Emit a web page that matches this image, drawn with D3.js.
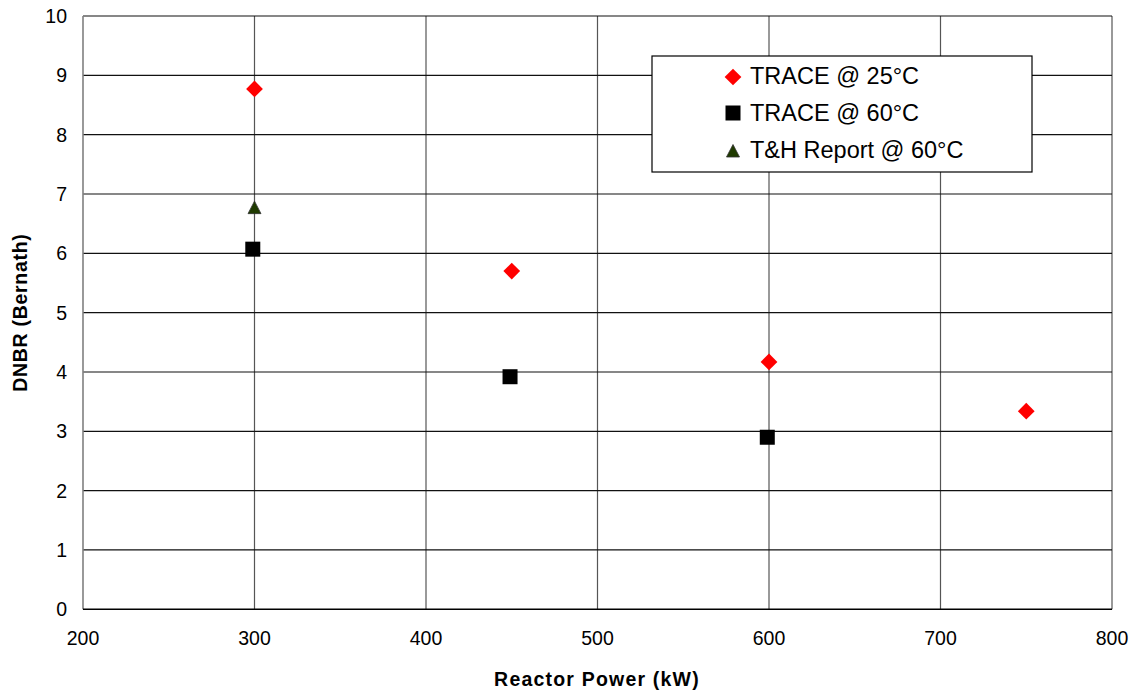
<!DOCTYPE html>
<html><head><meta charset="utf-8">
<script src="https://cdn.jsdelivr.net/npm/d3@7"></script>
<style>body{margin:0;background:#fff}svg{display:block}text{font-family:Arial,"Liberation Sans",sans-serif}</style>
</head><body><svg id="c" width="1134" height="694"></svg>
<script>
const xTicks = [200,300,400,500,600,700,800];
const yTicks = [0,1,2,3,4,5,6,7,8,9,10];
const trace25 = [[300,8.77],[450,5.70],[600,4.17],[750,3.34]];
const trace60 = [[299,6.07],[449,3.92],[599,2.90]];
const thReport = [[300,6.77]];
const legendLabels = ["TRACE @ 25°C","TRACE @ 60°C","T&H Report @ 60°C"];

const svg = d3.select("#c");
const L=83,R=1112,T=16,B=609.3;
const x = d3.scaleLinear().domain([200,800]).range([L,R]);
const y = d3.scaleLinear().domain([0,10]).range([B,T]);

svg.append("g").selectAll("line").data(xTicks.slice(1)).join("line")
  .attr("x1",d=>x(d)).attr("x2",d=>x(d)).attr("y1",T).attr("y2",B)
  .attr("stroke","#555").attr("stroke-width",1.2);
svg.append("g").selectAll("line").data(yTicks.slice(1)).join("line")
  .attr("x1",L).attr("x2",R).attr("y1",d=>y(d)).attr("y2",d=>y(d))
  .attr("stroke","#111").attr("stroke-width",1.2);
svg.append("line").attr("x1",L).attr("x2",L).attr("y1",T).attr("y2",B).attr("stroke","#808080").attr("stroke-width",1.6);
svg.append("line").attr("x1",L).attr("x2",R).attr("y1",B).attr("y2",B).attr("stroke","#000").attr("stroke-width",1.6);

svg.append("g").selectAll("text").data(yTicks).join("text")
  .attr("x",67).attr("y",d=>y(d)+7).attr("text-anchor","end")
  .attr("font-size",19.5).attr("fill","#000").text(d=>d);
svg.append("g").selectAll("text").data(xTicks).join("text")
  .attr("x",d=>x(d)).attr("y",645).attr("text-anchor","middle")
  .attr("font-size",19.5).attr("fill","#000").text(d=>d);

svg.append("text").attr("x",597).attr("y",686).attr("text-anchor","middle")
  .attr("font-size",19.5).attr("font-weight","bold").attr("letter-spacing",1.2).text("Reactor Power (kW)");
svg.append("text").attr("transform","translate(27,"+((T+B)/2)+") rotate(-90)").attr("text-anchor","middle")
  .attr("font-size",19.5).attr("font-weight","bold").attr("letter-spacing",0.7).text("DNBR (Bernath)");

function drawDiamond(g,cx,cy){g.append("path").attr("d",d3.symbol().type(d3.symbolSquare).size(140)()).attr("transform",`translate(${cx},${cy}) rotate(45)`).attr("fill","#ff0000");}
function drawSquare(g,cx,cy){g.append("rect").attr("x",cx-7.5).attr("y",cy-7.5).attr("width",15).attr("height",15).attr("fill","#000");}
function drawTri(g,cx,cy){g.append("path").attr("d",`M${cx},${cy-6.5}L${cx+6.5},${cy+6}L${cx-6.5},${cy+6}Z`).attr("fill","#1f3a00").attr("stroke","#333").attr("stroke-width",0.8);}

const pts = svg.append("g");
trace25.forEach(d=>drawDiamond(pts,x(d[0]),y(d[1])));
trace60.forEach(d=>drawSquare(pts,x(d[0]),y(d[1])));
thReport.forEach(d=>drawTri(pts,x(d[0]),y(d[1])));

const lg = svg.append("g");
lg.append("rect").attr("x",652).attr("y",56).attr("width",380).attr("height",116).attr("fill","#fff").attr("stroke","#000").attr("stroke-width",1.2);
const rows=[76,113,150];
drawDiamond(lg,733,rows[0]+1);
drawSquare(lg,733,rows[1]);
drawTri(lg,733,rows[2]+1);
lg.selectAll("text").data(legendLabels).join("text")
  .attr("x",750).attr("y",(d,i)=>rows[i]+8).attr("font-size",23.5).text(d=>d);
</script></body></html>
